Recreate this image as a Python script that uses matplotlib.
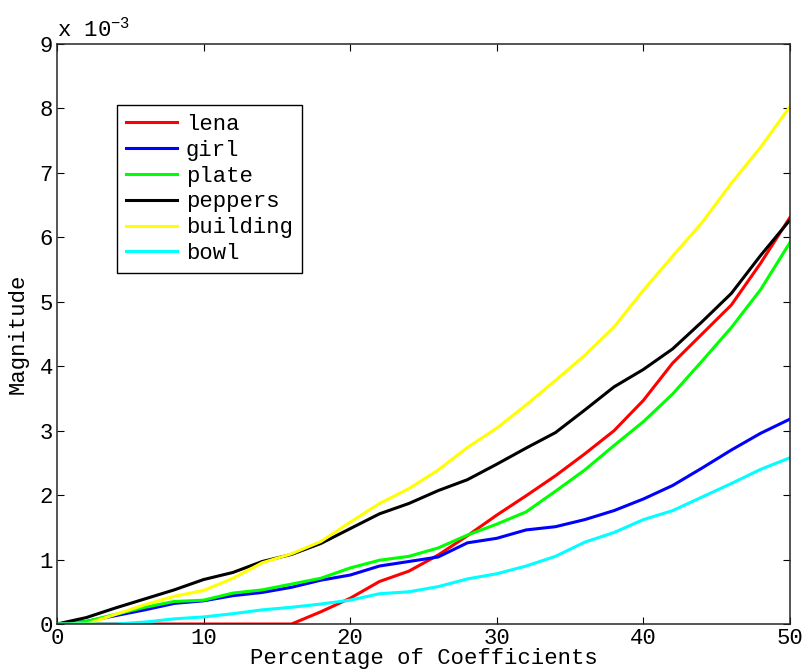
import matplotlib
matplotlib.use("Agg")
import matplotlib.pyplot as plt

# fuente tipo MATLAB (Courier)
plt.rcParams['font.family'] = ['Liberation Mono', 'DejaVu Sans Mono']
plt.rcParams['mathtext.fontset'] = 'custom'
plt.rcParams['mathtext.rm'] = 'Liberation Mono'

# datos: porcentaje de coeficientes y magnitud (en unidades de 1e-3)
porcentaje = [0, 2, 4, 6, 8, 10, 12, 14, 16, 18, 20, 22, 24, 26,
              28, 30, 32, 34, 36, 38, 40, 42, 44, 46, 48, 50]

lena = [0, 0, 0, 0, 0, 0, 0, 0, 0, 0.19, 0.40, 0.66, 0.82, 1.07,
        1.37, 1.69, 1.99, 2.30, 2.64, 3.00, 3.47, 4.05, 4.50, 4.95, 5.60, 6.31]
girl = [0, 0.04, 0.13, 0.22, 0.32, 0.36, 0.44, 0.49, 0.57, 0.68, 0.76, 0.90, 0.97, 1.04,
        1.26, 1.33, 1.46, 1.51, 1.62, 1.76, 1.94, 2.15, 2.42, 2.70, 2.96, 3.18]
plate = [0, 0.04, 0.15, 0.26, 0.35, 0.37, 0.48, 0.53, 0.62, 0.71, 0.87, 0.99, 1.05, 1.18,
         1.38, 1.55, 1.74, 2.06, 2.39, 2.77, 3.14, 3.57, 4.08, 4.60, 5.19, 5.92]
peppers = [0, 0.10, 0.25, 0.39, 0.53, 0.69, 0.80, 0.97, 1.08, 1.25, 1.48, 1.71, 1.87, 2.07,
           2.24, 2.48, 2.73, 2.97, 3.32, 3.68, 3.95, 4.27, 4.69, 5.13, 5.72, 6.27]
building = [0, 0, 0.15, 0.30, 0.43, 0.52, 0.71, 0.95, 1.09, 1.28, 1.58, 1.87, 2.10, 2.39,
            2.74, 3.04, 3.40, 3.78, 4.17, 4.61, 5.18, 5.71, 6.23, 6.84, 7.40, 8.03]
bowl = [0, 0, 0, 0.03, 0.08, 0.11, 0.16, 0.22, 0.26, 0.31, 0.37, 0.47, 0.50, 0.58,
        0.70, 0.78, 0.90, 1.05, 1.27, 1.42, 1.62, 1.76, 1.97, 2.18, 2.40, 2.58]

series = [("lena", lena, "#ff0000"), ("girl", girl, "#0000ff"), ("plate", plate, "#00ff00"),
          ("peppers", peppers, "#000000"), ("building", building, "#ffff00"), ("bowl", bowl, "#00ffff")]

fig = plt.figure(figsize=(8.07, 6.72), dpi=100)
ax = fig.add_axes([0.0706, 0.0714, 0.9083, 0.8631])

for nombre, valores, color in series:
    ax.plot(porcentaje, valores, color=color, linewidth=2.2, label=nombre)

ax.set_xlim(0, 50)
ax.set_ylim(0, 9)
ax.set_xticks([0, 10, 20, 30, 40, 50])
ax.set_yticks(range(10))
ax.tick_params(direction="in", length=5, top=True, right=True, labelsize=16, pad=3)
for s in ax.spines.values():
    s.set_linewidth(1.1)
    s.set_color("#262626")

ax.set_xlabel("Percentage of Coefficients", fontsize=16, labelpad=-0.5)
ax.set_ylabel("Magnitude", fontsize=16, labelpad=8)
ax.text(0.0, 1.005, "x 10$^{-3}$", transform=ax.transAxes, fontsize=16, va="bottom", ha="left")

leg = ax.legend(loc="upper left", bbox_to_anchor=(0.082, 0.895), fontsize=16,
                handlelength=2.3, handletextpad=0.4, labelspacing=0.22, borderpad=0.4,
                fancybox=False, framealpha=1, borderaxespad=0)
leg.get_frame().set_edgecolor("black")
leg.get_frame().set_linewidth(1.0)

plt.savefig("out.png", dpi=100)
